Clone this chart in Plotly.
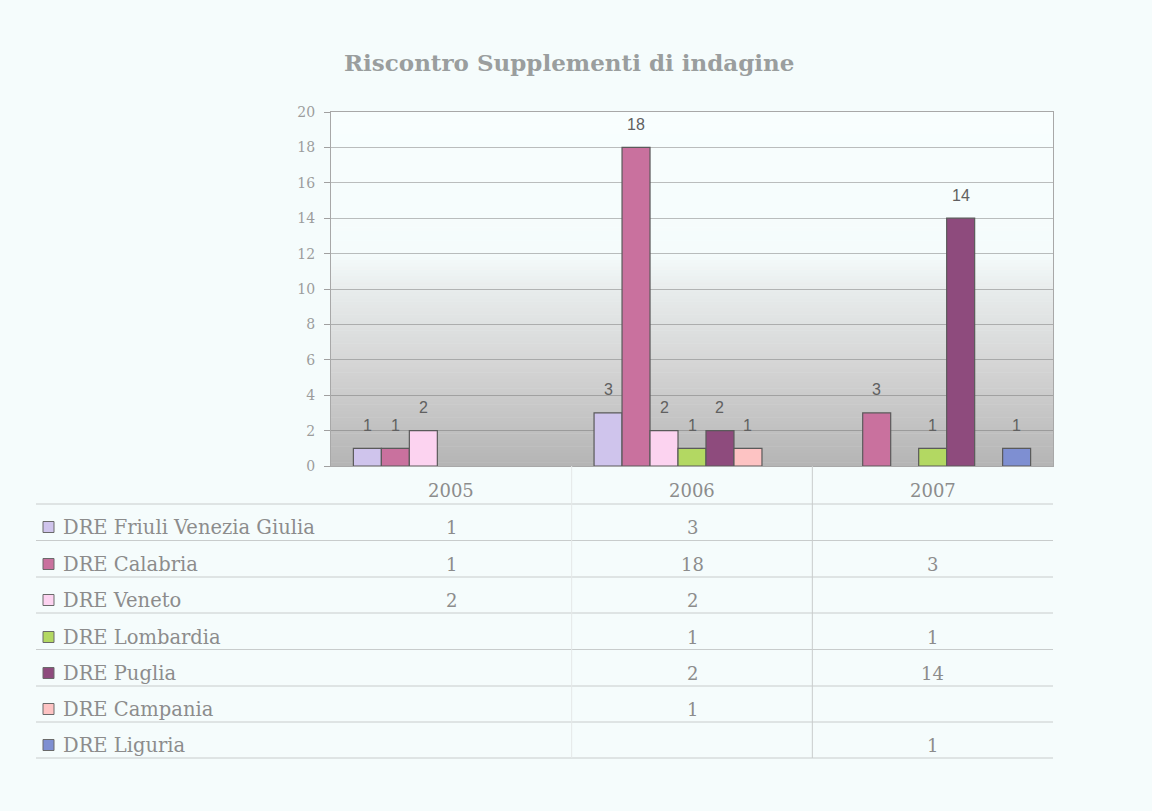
import plotly.graph_objects as go

# Data
years = ["2005", "2006", "2007"]
series_names = [
    "DRE Friuli Venezia Giulia",
    "DRE Calabria",
    "DRE Veneto",
    "DRE Lombardia",
    "DRE Puglia",
    "DRE Campania",
    "DRE Liguria",
]
friuli = [1, 3, None]
calabria = [1, 18, 3]
veneto = [2, 2, None]
lombardia = [None, 1, 1]
puglia = [None, 2, 14]
campania = [None, 1, None]
liguria = [None, None, 1]
series_values = [friuli, calabria, veneto, lombardia, puglia, campania, liguria]
series_colors = ["#CFC4EC", "#C9719E", "#FCD3F0", "#B3D862", "#8E4B7D", "#FDC3C3", "#7E8FD2"]
y_ticks = list(range(0, 21, 2))

# Layout geometry (pixels)
W, H = 1152, 811
L, R, T, B = 331, 99, 112, 345
PW, PH = W - L - R, H - T - B
Y0 = T + PH  # pixel row of the x axis
BARGAP = 0.186


def px_x(p):
    return (p - L) / PW


def px_y(p):
    return (Y0 - p) / PH


serif = "DejaVu Serif"
grey_txt = "#8C8C8C"

fig = go.Figure()
for name, vals, col in zip(series_names, series_values, series_colors):
    fig.add_trace(go.Bar(
        name=name, x=years, y=vals,
        marker=dict(color=col, line=dict(color="#5A5A5A", width=1.2)),
    ))

shapes = []
annotations = []

# value labels above each bar, centred on its slot within the group
n_series = len(series_names)
group_w = 1 - BARGAP
slot_w = group_w / n_series
for k, vals in enumerate(series_values):
    for i, v in enumerate(vals):
        if v is None:
            continue
        annotations.append(dict(
            x=i - group_w / 2 + (k + 0.5) * slot_w, xref="x", y=v, yref="y",
            text=str(v), showarrow=False, xanchor="center", yanchor="middle", yshift=23,
            font=dict(family="Liberation Sans, Arial", size=16, color="#606060")))

# vertical gradient of the plot background: pale at top, grey near the base
stops = [(20, (248, 254, 254)), (12, (245, 252, 252)), (10, (232, 236, 236)),
         (6, (214, 215, 215)), (3, (198, 198, 198)), (0, (180, 180, 180))]


def grad(v):
    for (v1, c1), (v2, c2) in zip(stops[:-1], stops[1:]):
        if v2 <= v <= v1:
            t = (v1 - v) / (v1 - v2)
            return tuple(round(a + (b - a) * t) for a, b in zip(c1, c2))
    return stops[-1][1]


n = 110
for i in range(n):
    lo = 20 * i / n
    hi = 20 * (i + 1) / n
    c = grad((lo + hi) / 2)
    shapes.append(dict(type="rect", xref="paper", yref="y", x0=0, x1=1,
                       y0=lo, y1=hi + 0.03, layer="below", line=dict(width=0),
                       fillcolor="rgb(%d,%d,%d)" % c))

# data table geometry
header_y = 490
row_y = [527, 564, 600, 637, 673, 709, 745]
line_y = [504, 540.5, 577, 613, 649.5, 686, 722, 758]
table_left = 36
line_col = "#C8CCCC"

for ly in line_y:
    shapes.append(dict(type="line", xref="paper", yref="paper",
                       x0=px_x(table_left), x1=1, y0=px_y(ly), y1=px_y(ly),
                       line=dict(color=line_col, width=1)))
# column separators of the table
for k, vx in enumerate([L + PW / 3, L + 2 * PW / 3]):
    shapes.append(dict(type="line", xref="paper", yref="paper",
                       x0=px_x(vx), x1=px_x(vx), y0=px_y(Y0), y1=px_y(line_y[-1]),
                       line=dict(color="#E4E8E8" if k == 0 else "#C8CCCC", width=1)))

num_font = dict(family=serif, size=18, color=grey_txt)
for i, yr in enumerate(years):
    annotations.append(dict(x=i, xref="x", y=px_y(header_y), yref="paper",
                            text=yr, showarrow=False, xanchor="center", yanchor="middle",
                            font=num_font))

for name, vals, col, ry in zip(series_names, series_values, series_colors, row_y):
    shapes.append(dict(type="rect", xref="paper", yref="paper",
                       x0=px_x(43), x1=px_x(54), y0=px_y(ry + 5.5), y1=px_y(ry - 5.5),
                       fillcolor=col, line=dict(color="#6A6A6A", width=1)))
    annotations.append(dict(x=px_x(61), xref="paper", y=px_y(ry), yref="paper",
                            text=name, showarrow=False, xanchor="left", yanchor="middle",
                            font=dict(family=serif, size=19.5, color=grey_txt)))
    for i, v in enumerate(vals):
        if v is not None:
            annotations.append(dict(x=i, xref="x", y=px_y(ry), yref="paper",
                                    text=str(v), showarrow=False, xanchor="center",
                                    yanchor="middle", font=num_font))

# chart title
annotations.append(dict(x=px_x(569), xref="paper", y=px_y(62), yref="paper",
                        text="<b>Riscontro Supplementi di indagine</b>", showarrow=False,
                        xanchor="center", yanchor="middle",
                        font=dict(family=serif, size=23, color="#9A9E9E")))

fig.update_layout(
    width=W, height=H,
    margin=dict(l=L, r=R, t=T, b=B, pad=0),
    paper_bgcolor="#F5FCFC",
    plot_bgcolor="#F9FEFE",
    barmode="group",
    bargap=BARGAP,
    bargroupgap=0,
    showlegend=False,
    shapes=shapes,
    annotations=annotations,
    xaxis=dict(type="category", categoryorder="array", categoryarray=years,
               range=[-0.5, 2.5], showticklabels=False, ticks="",
               showgrid=False, showline=True, linecolor="#A8A8A8", linewidth=1,
               mirror=True, zeroline=False),
    yaxis=dict(range=[0, 20], tickvals=y_ticks, ticks="outside", ticklen=6,
               tickcolor="#A0A0A0", showline=True, linecolor="#A8A8A8",
               linewidth=1, mirror=True, showgrid=True,
               gridcolor="rgba(110,110,110,0.45)",
               gridwidth=1, zeroline=False, ticklabelstandoff=6,
               tickfont=dict(family=serif, size=14, color="#9C9C9C")),
)

fig.write_html("out.html")
